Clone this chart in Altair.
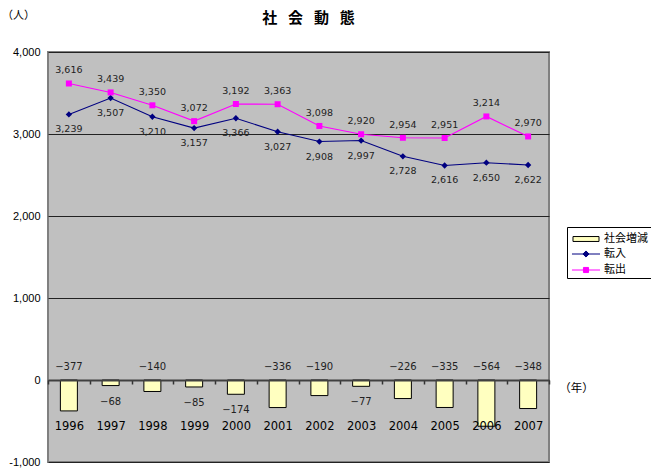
import altair as alt
import pandas as pd

years = ["1996", "1997", "1998", "1999", "2000", "2001", "2002", "2003", "2004", "2005", "2006", "2007"]
tennyu = [3239, 3439, 3210, 3072, 3192, 3027, 2908, 2920, 2728, 2616, 2650, 2622]
tenshutsu = [3616, 3507, 3350, 3157, 3366, 3363, 3098, 2997, 2954, 2951, 3214, 2970]
shakai = [-377, -68, -140, -85, -174, -336, -190, -77, -226, -335, -564, -348]
upper_labels = [3616, 3439, 3350, 3072, 3192, 3363, 3098, 2920, 2954, 2951, 3214, 2970]
lower_labels = [3239, 3507, 3210, 3157, 3366, 3027, 2908, 2997, 2728, 2616, 2650, 2622]
change_label_above = [True, False, True, False, False, True, True, False, True, True, True, True]
series_names = ["社会増減", "転入", "転出"]
series_fill = ["#FFFFC0", "#000080", "#FF00FF"]
series_stroke = ["#000000", "#000080", "#FF00FF"]
legend_paths = [
    "M-1.53,-0.29H1.53V0.29H-1.53Z",
    "M-1.65,0H1.65M0,-0.36L0.36,0L0,0.36L-0.36,0Z",
    "M-1.65,0H1.65M-0.3,-0.3H0.3V0.3H-0.3Z",
]

df = pd.DataFrame({
    "year": years, "tennyu": tennyu, "tenshutsu": tenshutsu, "shakai": shakai,
    "upper": upper_labels, "lower": lower_labels, "above": change_label_above,
})
df_leg = pd.DataFrame({"series": series_names})

NUM_FONT = "DejaVu Sans"
AX_FONT = "Liberation Sans"
JP_FONT = "Noto Sans CJK JP"

xscale = alt.Scale(paddingInner=0, paddingOuter=0)
xaxis = alt.Axis(
    title="（年）", titleX=528, titleY=8, titleAngle=0, titleAlign="center",
    titleBaseline="middle", titleFont=JP_FONT, titleFontSize=11.5,
    titleFontWeight="normal", titleColor="#000",
    labelAngle=0, labelFont=NUM_FONT, labelFontSize=11.5, labelPadding=36,
    labelColor="#000", offset=-82, domainColor="#404040", domainWidth=2,
    tickBand="extent", tickColor="#333", tickSize=4, tickWidth=1.5,
    grid=False, zindex=1,
)
yscale = alt.Scale(domain=[-1000, 4000], nice=False)
yaxis = alt.Axis(
    values=[-1000, 0, 1000, 2000, 3000, 4000],
    labelExpr="datum.value < 0 ? '-' + format(-datum.value, ',') : format(datum.value, ',')",
    title="（人）", titleAngle=0, titleX=-30, titleY=-37, titleAlign="center",
    titleBaseline="middle", titleFont=JP_FONT, titleFontSize=11,
    titleFontWeight="normal", titleColor="#000",
    domain=False, ticks=False, grid=True, gridColor="#222", gridWidth=1,
    labelPadding=8, labelFont=AX_FONT, labelFontSize=11, labelColor="#000",
)

X = alt.X("year:N", sort=years, scale=xscale, axis=xaxis)


def Y(field):
    return alt.Y(field, scale=yscale, axis=yaxis)


legend = alt.Legend(
    title=None, orient="none", legendX=519, legendY=175, direction="vertical",
    fillColor="white", strokeColor="black", padding=3,
    symbolSize=289, symbolOffset=7, labelOffset=9, symbolStrokeWidth=1,
    symbolOpacity=1,
    labelFont=JP_FONT, labelFontSize=11, labelColor="#000", rowPadding=1,
)

bars = alt.Chart(df).mark_bar(size=17, fill="#FFFFC0", stroke="#000", strokeWidth=1).encode(
    x=X, y=Y("shakai:Q"))

line_in = alt.Chart(df).mark_line(strokeWidth=1.1, color="#000080").encode(x=X, y=Y("tennyu:Q"))
line_out = alt.Chart(df).mark_line(strokeWidth=1.1, color="#FF00FF").encode(x=X, y=Y("tenshutsu:Q"))

pts_in = alt.Chart(df).mark_point(shape="diamond", filled=True, size=40, color="#000080", opacity=1).encode(
    x=X, y=Y("tennyu:Q"))
pts_out = alt.Chart(df).mark_point(shape="square", filled=True, size=36, color="#FF00FF", opacity=1).encode(
    x=X, y=Y("tenshutsu:Q"))

legend_layer = alt.Chart(df_leg).mark_point(filled=True, opacity=0).encode(
    fill=alt.Fill("series:N", scale=alt.Scale(domain=series_names, range=series_fill), legend=legend),
    stroke=alt.Stroke("series:N", scale=alt.Scale(domain=series_names, range=series_stroke), legend=legend),
    shape=alt.Shape("series:N", scale=alt.Scale(domain=series_names, range=legend_paths), legend=legend),
)

up_txt = alt.Chart(df).mark_text(dy=-13, fontSize=9.5, font=NUM_FONT, color="#222").encode(
    x=X, y=Y("tenshutsu:Q"), text=alt.Text("upper:Q", format=","))
lo_txt = alt.Chart(df).mark_text(dy=15, fontSize=9.5, font=NUM_FONT, color="#222").encode(
    x=X, y=Y("tennyu:Q"), text=alt.Text("lower:Q", format=","))

ch_above = alt.Chart(df).transform_filter("datum.above").mark_text(
    dy=-13, fontSize=10, font=NUM_FONT, color="#222").encode(
    x=X, y=alt.YDatum(0, scale=yscale, axis=yaxis), text=alt.Text("shakai:Q", format=","))
ch_below = alt.Chart(df).transform_filter("!datum.above").mark_text(
    dy=16, fontSize=10, font=NUM_FONT, color="#222").encode(
    x=X, y=Y("shakai:Q"), text=alt.Text("shakai:Q", format=","))

chart = alt.layer(
    bars, line_in, line_out, pts_in, pts_out, up_txt, lo_txt, ch_above, ch_below, legend_layer
).properties(
    width=501, height=410,
    background="white",
    view=alt.ViewBackground(fill="#C0C0C0", stroke="#808080", strokeWidth=2),
    autosize=alt.AutoSizeParams(type="none"),
    padding={"left": 40, "top": 44, "right": 102, "bottom": 6},
    title=alt.TitleParams("社\u2002 会\u2002 動\u2002 態", font=JP_FONT, fontSize=15, fontWeight="bold",
                          anchor="middle", dx=10, offset=-17, color="#000"),
).configure_view(
    fill="#C0C0C0", stroke="#808080", strokeWidth=2,
)

chart.save("out.html", embed_options={"renderer": "svg", "actions": False})
